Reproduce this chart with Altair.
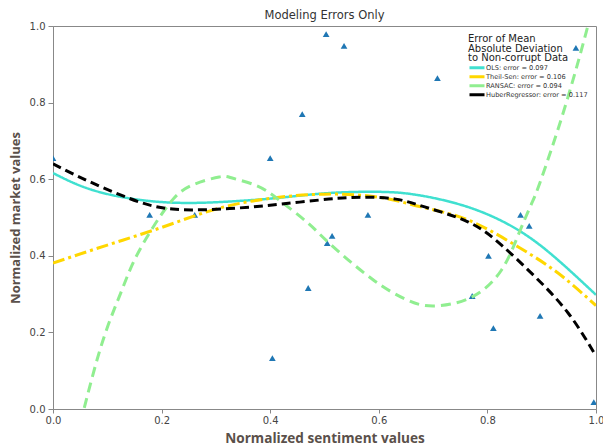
import altair as alt
import pandas as pd

# Scatter data (normalized sentiment vs market values)
pt_x = [0.0, 0.178, 0.261, 0.400, 0.404, 0.459, 0.470, 0.503, 0.505, 0.514, 0.536,
        0.580, 0.708, 0.772, 0.802, 0.811, 0.861, 0.877, 0.897, 0.963, 0.996]
pt_y = [0.655, 0.507, 0.507, 0.655, 0.133, 0.770, 0.316, 0.979, 0.433, 0.452, 0.948,
        0.507, 0.864, 0.295, 0.400, 0.211, 0.507, 0.478, 0.243, 0.943, 0.018]

# Fitted curves
ols_x = [0.0, 0.07, 0.16, 0.25, 0.34, 0.42, 0.51, 0.60, 0.67, 0.765, 0.857, 0.93, 1.0]
ols_y = [0.616, 0.573, 0.546, 0.538, 0.543, 0.552, 0.564, 0.567, 0.559, 0.527, 0.467, 0.389, 0.298]

ts_x = [0.0, 0.1, 0.2, 0.3, 0.4, 0.5, 0.6, 0.68, 0.765, 0.857, 0.93, 1.0]
ts_y = [0.381, 0.428, 0.474, 0.522, 0.550, 0.561, 0.553, 0.527, 0.493, 0.423, 0.355, 0.270]

ransac_x = [0.05, 0.057, 0.081, 0.105, 0.127, 0.15, 0.184, 0.22, 0.257, 0.306, 0.33, 0.375,
            0.417, 0.47, 0.508, 0.587, 0.65, 0.70, 0.771, 0.826, 0.857, 0.881, 0.899, 0.943,
            0.982, 0.99]
ransac_y = [-0.037, 0.0, 0.128, 0.232, 0.311, 0.389, 0.474, 0.546, 0.585, 0.606, 0.603, 0.583,
            0.545, 0.485, 0.434, 0.340, 0.286, 0.269, 0.292, 0.363, 0.455, 0.535, 0.60, 0.789,
            0.984, 1.03]

huber_x = [0.0, 0.068, 0.16, 0.22, 0.27, 0.343, 0.42, 0.508, 0.569, 0.631, 0.686, 0.765,
           0.826, 0.888, 0.949, 1.0]
huber_y = [0.640, 0.593, 0.540, 0.522, 0.520, 0.525, 0.535, 0.548, 0.553, 0.548, 0.527,
           0.488, 0.428, 0.345, 0.25, 0.138]

names = ["OLS: error = 0.097", "Theil-Sen: error = 0.106",
         "RANSAC: error = 0.094", "HuberRegressor: error = 0.117"]
colors = ["#40E0D0", "#FFD700", "#90EE90", "#000000"]
dashes = [[1, 0], [12, 4, 3, 4], [10, 6], [9, 5]]
widths = [2.5, 3, 3, 3]
series = [(ols_x, ols_y), (ts_x, ts_y), (ransac_x, ransac_y), (huber_x, huber_y)]

rows = []
for n, (xs_, ys_) in zip(names, series):
    for i, (a, b) in enumerate(zip(xs_, ys_)):
        rows.append({"model": n, "x": a, "y": b, "i": i})
lines_df = pd.DataFrame(rows)
pts_df = pd.DataFrame({"x": pt_x, "y": pt_y})

axis_title_color = "#5a504a"
xs = alt.Scale(domain=[0, 1], nice=False, zero=False)
ys = alt.Scale(domain=[0, 1], nice=False, zero=False)

x_axis = alt.Axis(values=[0, 0.2, 0.4, 0.6, 0.8, 1.0], format=".1f", title="Normalized sentiment values",
                  titleFont="Open Sans", titleFontSize=13.6, titleFontWeight="bold",
                  titleColor=axis_title_color, titlePadding=6, tickSize=4, labelPadding=2,
                  labelFlush=False)
y_axis = alt.Axis(values=[0, 0.2, 0.4, 0.6, 0.8, 1.0], format=".1f", title="Normalized market values",
                  titleFont="Open Sans", titleFontSize=13, titleFontWeight="bold",
                  titleColor=axis_title_color, titlePadding=7, tickSize=5, labelPadding=3,
                  labelFlush=False)

points = alt.Chart(pts_df).mark_point(shape="triangle-up", filled=True, color="#1f77b4",
                                      opacity=1, size=45, clip=True).encode(
    x=alt.X("x:Q", scale=xs, axis=x_axis),
    y=alt.Y("y:Q", scale=ys, axis=y_axis),
)

color_enc = alt.Color("model:N", scale=alt.Scale(domain=names, range=colors),
                      legend=alt.Legend(
                          title=["Error of Mean", "Absolute Deviation", "to Non-corrupt Data"],
                          orient="none", legendX=415, legendY=8,
                          titleFont="DejaVu Sans", titleFontSize=10, titleFontWeight="normal",
                          titleColor="#222222", titleLineHeight=9.6, titleAnchor="start",
                          titlePadding=0, labelFont="DejaVu Sans", labelFontSize=6.6,
                          labelColor="#333333", labelOffset=9,
                          symbolType="M-1,0L4,0", symbolSize=36, symbolStrokeWidth=3,
                          rowPadding=0, clipHeight=9, padding=0, symbolOpacity=1))

layers = [points]
for n, d, w in zip(names, dashes, widths):
    layers.append(
        alt.Chart(lines_df).transform_filter(alt.datum.model == n)
        .mark_line(interpolate="natural", strokeWidth=w, strokeDash=d, clip=True)
        .encode(x=alt.X("x:Q", scale=xs), y=alt.Y("y:Q", scale=ys),
                color=color_enc, order="i:Q")
    )

chart = alt.layer(*layers).properties(
    width=543, height=383,
    title=alt.TitleParams("Modeling Errors Only", font="DejaVu Sans", fontSize=11.5,
                          fontWeight="normal", color="#333333", offset=0),
    autosize=alt.AutoSizeParams(type="none"),
    padding={"left": 53, "top": 26, "right": 7, "bottom": 39},
).configure_view(stroke="#888888", strokeWidth=1).configure_axis(
    grid=False, domainColor="#888888", tickColor="#888888", labelColor="#444444",
    labelFont="DejaVu Sans", labelFontSize=10
)

chart.save("out.html", embed_options={"renderer": "svg", "actions": False})
